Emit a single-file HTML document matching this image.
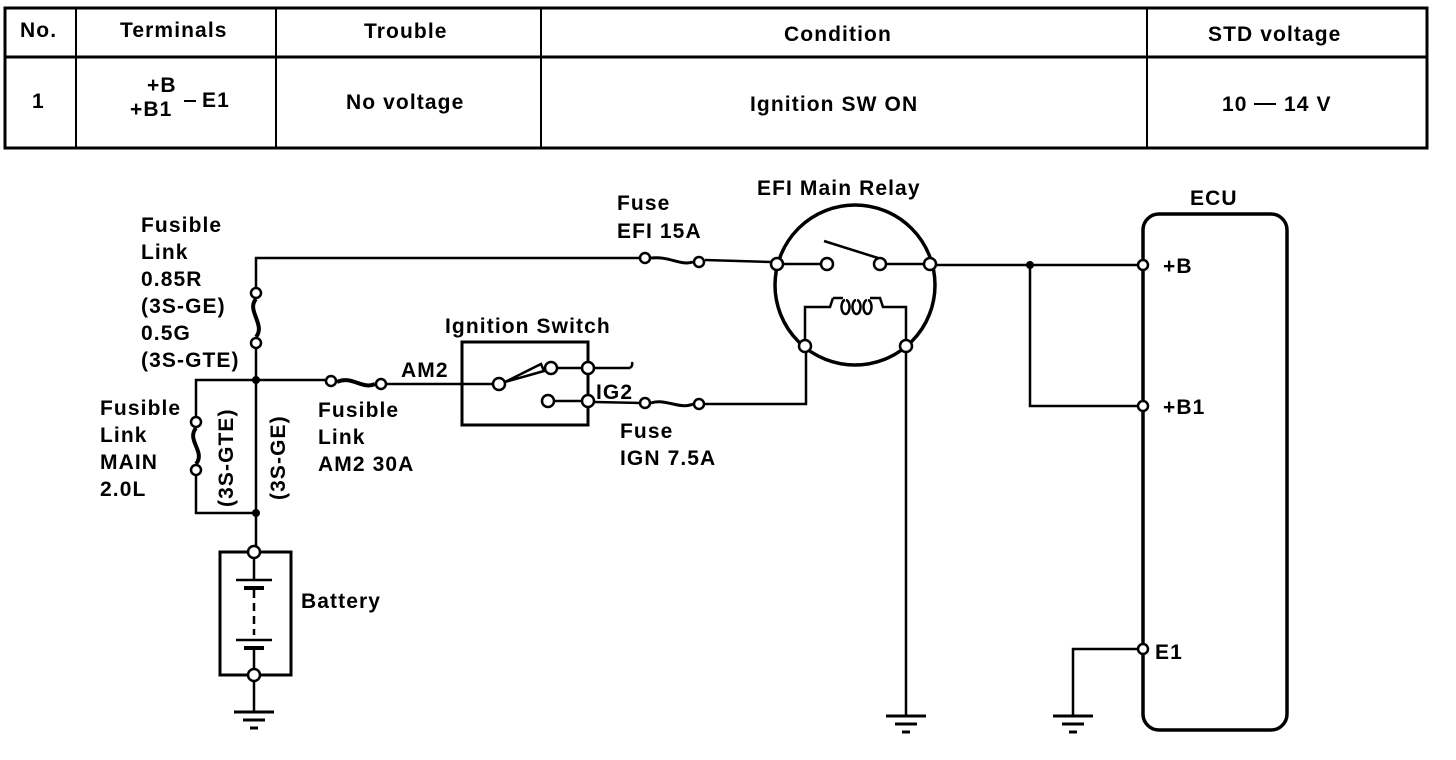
<!DOCTYPE html>
<html><head><meta charset="utf-8"><style>
html,body{margin:0;padding:0;background:#fff;width:1456px;height:760px;overflow:hidden}
svg{display:block}
text{font-family:"Liberation Sans",Arial,sans-serif;font-weight:bold;font-size:21px;letter-spacing:1.1px;fill:#000}
</style></head><body>
<svg width="1456" height="760" viewBox="0 0 1456 760">
<g fill="none" stroke="#000">
<rect x="5" y="8" width="1422" height="140" stroke-width="3"/>
<line x1="5" y1="57" x2="1427" y2="57" stroke-width="3"/>
<line x1="76" y1="8" x2="76" y2="148" stroke-width="2"/>
<line x1="276" y1="8" x2="276" y2="148" stroke-width="2"/>
<line x1="541" y1="8" x2="541" y2="148" stroke-width="2"/>
<line x1="1147" y1="8" x2="1147" y2="148" stroke-width="2"/>
<line x1="184" y1="101" x2="196" y2="101" stroke-width="2"/>
<line x1="1254" y1="104" x2="1276" y2="104" stroke-width="2"/>
</g>
<text x="20" y="37">No.</text>
<text x="120" y="37">Terminals</text>
<text x="364" y="38">Trouble</text>
<text x="784" y="41">Condition</text>
<text x="1208" y="41">STD voltage</text>
<text x="32" y="108">1</text>
<text x="147" y="92">+B</text>
<text x="130" y="116">+B1</text>
<text x="202" y="107">E1</text>
<text x="346" y="109">No voltage</text>
<text x="750" y="111">Ignition SW  ON</text>
<text x="1222" y="111">10</text>
<text x="1284" y="111">14  V</text>

<g fill="none" stroke="#000" stroke-width="2.5">
<polyline points="256,287 256,258 639,258"/>
<line x1="256" y1="349" x2="256" y2="546"/>
<path d="M256,299 C246,310 266,325 256,337" stroke-width="4"/>
<line x1="705" y1="260" x2="771" y2="262"/>
<path d="M651,258 C670,256 680,266 693,262" stroke-width="3"/>
<circle cx="855" cy="285" r="80" stroke-width="3.5"/>
<line x1="783" y1="264" x2="821" y2="264"/>
<line x1="824" y1="241" x2="878" y2="258"/>
<line x1="886" y1="264" x2="924" y2="264"/>
<polyline points="805,340 805,307 830,307 833,298"/>
<path d="M833,298 h10 M845,300 a4,7 0 1 0 1,0 M856,300 a4,7 0 1 0 1,0 M867,300 a4,7 0 1 0 1,0 M870,298 h10 l3,9 h23 v33"/>
<line x1="906" y1="352" x2="906" y2="715"/>
<polyline points="936,265 1030,265 1137,265"/>
<polyline points="1030,265 1030,406 1137,406"/>
<rect x="1143" y="214" width="144" height="516" rx="16" stroke-width="3.5"/>
<polyline points="1137,649 1073,649 1073,716"/>
<line x1="256" y1="380" x2="325" y2="380"/>
<path d="M337,382 C352,375 362,390 375,384" stroke-width="4"/>
<line x1="387" y1="384" x2="493" y2="384"/>
<rect x="462" y="342" width="126" height="83" stroke-width="3"/>
<polygon points="505,382 541,364 544,371" stroke-width="2.5"/>
<line x1="557" y1="368" x2="582" y2="368"/>
<line x1="554" y1="401" x2="582" y2="401"/>
<line x1="594" y1="368" x2="630" y2="368"/>
<path d="M630,368 q3,-2 2,-6"/>
<line x1="594" y1="402" x2="639" y2="403"/>
<path d="M651,403 C665,398 680,410 693,404" stroke-width="3"/>
<polyline points="705,404 806,404 806,352"/>
<polyline points="256,380 196,380 196,416"/>
<polyline points="196,476 196,513 256,513"/>
<path d="M196,428 C186,440 206,452 196,464" stroke-width="4"/>
<rect x="220" y="552" width="71" height="123" stroke-width="3"/>
<line x1="254" y1="558" x2="254" y2="580"/>
<line x1="236" y1="580" x2="272" y2="580"/>
<line x1="244" y1="588" x2="264" y2="588" stroke-width="4"/>
<line x1="254" y1="590" x2="254" y2="635" stroke-dasharray="8,5"/>
<line x1="236" y1="640" x2="272" y2="640"/>
<line x1="244" y1="648" x2="264" y2="648" stroke-width="4"/>
<line x1="254" y1="650" x2="254" y2="669"/>
<line x1="254" y1="681" x2="254" y2="712"/>
</g>
<g stroke="#000" stroke-width="3">
<line x1="234" y1="712" x2="274" y2="712"/><line x1="243" y1="720" x2="265" y2="720"/><line x1="250" y1="728" x2="258" y2="728"/>
<line x1="886" y1="716" x2="926" y2="716"/><line x1="895" y1="724" x2="917" y2="724"/><line x1="902" y1="732" x2="910" y2="732"/>
<line x1="1053" y1="716" x2="1093" y2="716"/><line x1="1062" y1="724" x2="1084" y2="724"/><line x1="1069" y1="732" x2="1077" y2="732"/>
</g>
<g fill="#fff" stroke="#000" stroke-width="2.5">
<circle cx="256" cy="293" r="5"/><circle cx="256" cy="343" r="5"/>
<circle cx="645" cy="258" r="5"/><circle cx="699" cy="262" r="5"/>
<circle cx="777" cy="264" r="6"/><circle cx="827" cy="264" r="6"/><circle cx="880" cy="264" r="6"/><circle cx="930" cy="264" r="6"/>
<circle cx="805" cy="346" r="6"/><circle cx="906" cy="346" r="6"/>
<circle cx="1143" cy="265" r="5"/><circle cx="1143" cy="406" r="5"/><circle cx="1143" cy="649" r="5"/>
<circle cx="331" cy="381" r="5"/><circle cx="381" cy="384" r="5"/>
<circle cx="499" cy="384" r="6"/><circle cx="551" cy="368" r="6"/><circle cx="548" cy="401" r="6"/>
<circle cx="588" cy="368" r="6"/><circle cx="588" cy="401" r="6"/>
<circle cx="645" cy="403" r="5"/><circle cx="699" cy="404" r="5"/>
<circle cx="196" cy="422" r="5"/><circle cx="196" cy="470" r="5"/>
<circle cx="254" cy="552" r="6"/><circle cx="254" cy="675" r="6"/>
</g>
<g fill="#000"><circle cx="256" cy="380" r="4"/><circle cx="256" cy="513" r="4"/><circle cx="1030" cy="265" r="4"/></g>

<text x="141" y="232">Fusible</text>
<text x="141" y="259">Link</text>
<text x="141" y="286">0.85R</text>
<text x="141" y="313">(3S-GE)</text>
<text x="141" y="340">0.5G</text>
<text x="141" y="367">(3S-GTE)</text>
<text x="100" y="415">Fusible</text>
<text x="100" y="442">Link</text>
<text x="100" y="469">MAIN</text>
<text x="100" y="496">2.0L</text>
<text transform="translate(233,507) rotate(-90)">(3S-GTE)</text>
<text transform="translate(285,500) rotate(-90)">(3S-GE)</text>
<text x="318" y="417">Fusible</text>
<text x="318" y="444">Link</text>
<text x="318" y="471">AM2 30A</text>
<text x="401" y="377">AM2</text>
<text x="445" y="333">Ignition Switch</text>
<text x="596" y="399">IG2</text>
<text x="620" y="438">Fuse</text>
<text x="620" y="465">IGN 7.5A</text>
<text x="617" y="210">Fuse</text>
<text x="617" y="238">EFI 15A</text>
<text x="757" y="195">EFI Main Relay</text>
<text x="1190" y="205">ECU</text>
<text x="1163" y="273">+B</text>
<text x="1163" y="414">+B1</text>
<text x="1155" y="659">E1</text>
<text x="301" y="608">Battery</text>
</svg>
</body></html>
